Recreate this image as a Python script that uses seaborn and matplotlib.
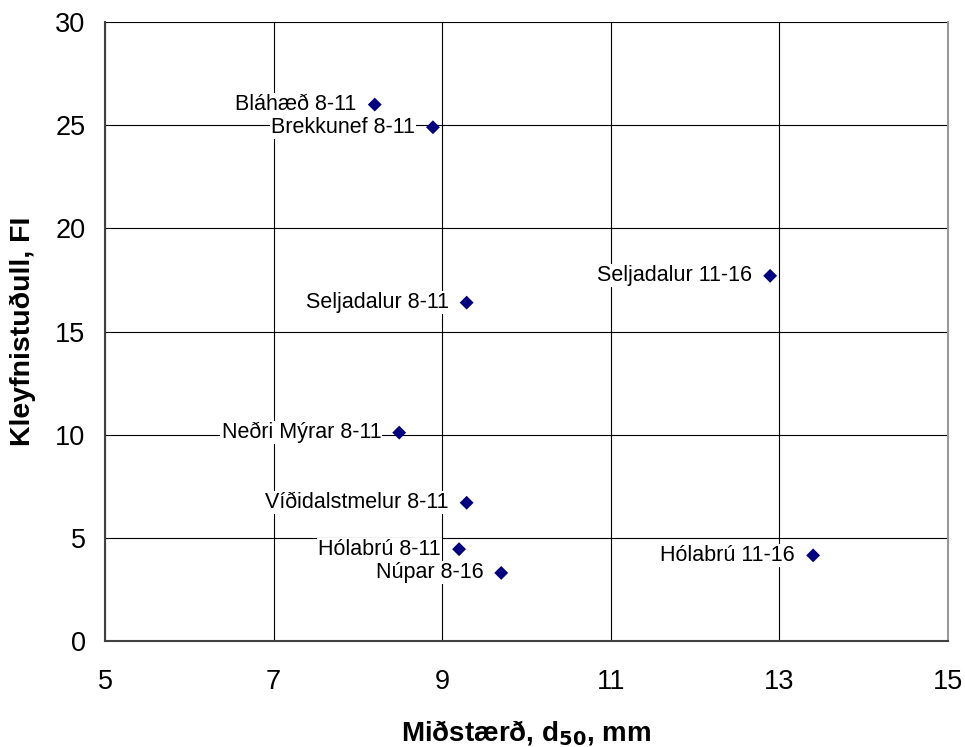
import pandas as pd
import seaborn as sns
import matplotlib
matplotlib.use("Agg")
import matplotlib.pyplot as plt

# gögn lesin af myndinni
names = ["Bláhæð 8-11", "Brekkunef 8-11", "Seljadalur 8-11", "Seljadalur 11-16",
         "Neðri Mýrar 8-11", "Víðidalstmelur 8-11", "Hólabrú 8-11", "Núpar 8-16",
         "Hólabrú 11-16"]
d50 = [8.20, 8.89, 9.29, 12.89, 8.49, 9.29, 9.20, 9.70, 13.40]
fi = [26.0, 24.9, 16.4, 17.7, 10.1, 6.7, 4.45, 3.3, 4.15]

x_ticks = [5, 7, 9, 11, 13, 15]
y_ticks = [0, 5, 10, 15, 20, 25, 30]

df = pd.DataFrame({"name": names, "d50": d50, "FI": fi})

sns.set_style("white")
plt.rcParams["font.family"] = ["Liberation Sans", "DejaVu Sans"]
plt.rcParams["text.color"] = "black"
plt.rcParams["axes.labelcolor"] = "black"
plt.rcParams["xtick.color"] = "black"
plt.rcParams["ytick.color"] = "black"

fig = plt.figure(figsize=(9.65, 7.47), dpi=100)
ax = fig.add_axes([0.1088, 0.1419, 0.8736, 0.8286])

sns.scatterplot(data=df, x="d50", y="FI", marker="D", color="#000080",
                s=50, edgecolor="none", ax=ax, zorder=4, legend=False)

for _, r in df.iterrows():
    ax.annotate(r["name"], (r["d50"], r["FI"]), xytext=(-13, 0),
                textcoords="offset points", ha="right", va="center",
                fontsize=15.5, zorder=3, color="black",
                bbox=dict(boxstyle="square,pad=0.05", fc="white", ec="none"))

ax.set_xlim(5, 15)
ax.set_ylim(0, 30)
ax.set_xticks(x_ticks)
ax.set_yticks(y_ticks)
ax.grid(True, color="black", linewidth=0.8)
ax.set_axisbelow(True)
ax.tick_params(axis="both", labelsize=19.5, direction="out", length=6,
               width=0.8, color="black", pad=8)
ax.tick_params(axis="x", pad=14)

for s in ["left", "bottom"]:
    ax.spines[s].set_color("#404040")
    ax.spines[s].set_linewidth(1.5)
ax.spines["top"].set_visible(False)
ax.spines["right"].set_color("#999999")
ax.spines["right"].set_linewidth(1.5)

ax.set_xlabel(r"Miðstærð, d$_{\mathbf{50}}$, mm", fontsize=20, fontweight="bold",
              labelpad=17)
ax.set_ylabel("Kleyfnistuðull, FI", fontsize=20.5, fontweight="bold", labelpad=14)

fig.savefig("out.png", dpi=100)
